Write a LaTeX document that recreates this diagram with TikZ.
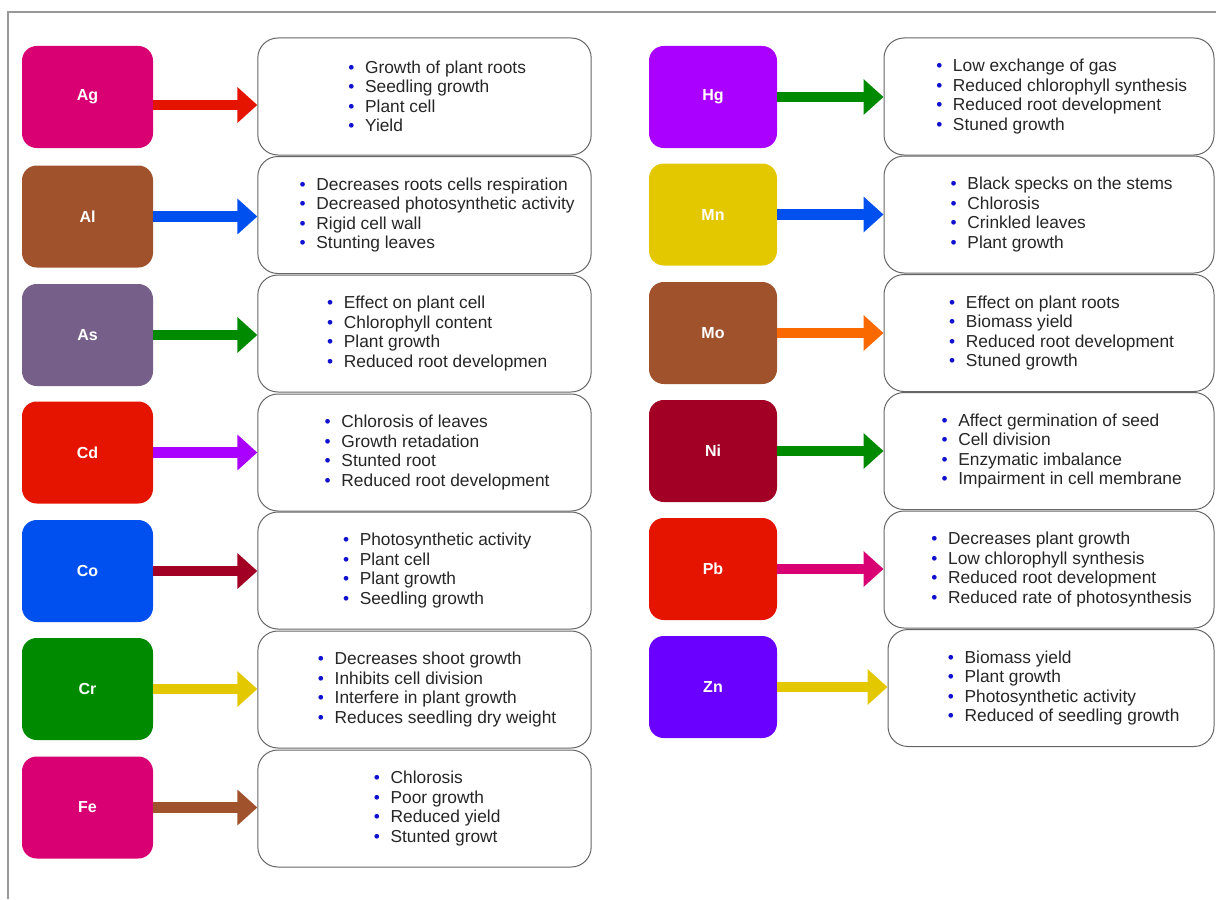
\documentclass[tikz,border=0pt]{standalone}
\usepackage{fontspec}
\setmainfont{Liberation Sans}
\usepackage{xcolor}
\usetikzlibrary{arrows.meta}
\definecolor{pinkred}{HTML}{D80073}
\definecolor{sienna}{HTML}{A0522D}
\definecolor{mauve}{HTML}{76608A}
\definecolor{brightred}{HTML}{E51400}
\definecolor{cobalt}{HTML}{0050EF}
\definecolor{leaf}{HTML}{008A00}
\definecolor{violet}{HTML}{AA00FF}
\definecolor{mustard}{HTML}{E3C800}
\definecolor{crimson}{HTML}{A20025}
\definecolor{indigo}{HTML}{6A00FF}
\definecolor{tangerine}{HTML}{FA6800}
\definecolor{dotblue}{HTML}{1010D0}
\tikzset{%
    metal/.style={%
        draw=none, rounded corners=11pt, minimum width=98.25pt,
        minimum height=76.5pt, text=white,
        font=\bfseries\fontsize{12}{14}\selectfont},
    effects/.style={%
        draw=black!60, line width=0.75pt, rounded corners=15pt, fill=white,
        minimum width=250pt, minimum height=87.75pt, align=left,
        text=black!85, font=\fontsize{13}{14.6}\selectfont},
    toxic/.style={line width=7.8pt, -{Triangle[length=15pt,width=26pt]}}
}
\newcommand{\itm}[1]{\hspace*{19pt}{\color{dotblue}\textbullet}\hspace{8pt}#1}

\begin{document}
\begin{tikzpicture}[x=0.75pt,y=-0.75pt]
    \useasboundingbox (0,0) rectangle (1216,899);
    \draw[black!40,line width=1.1pt] (1216,12) -- (8,12) -- (8,899);
    % left column
    \begin{scope}
        \node[metal,fill=pinkred](ag) at (87.5,97) {Ag};
        \node[metal,fill=sienna](al) at (87.5,216.5) {Al};
        \node[metal,fill=mauve](as) at (87.5,335) {As};
        \node[metal,fill=brightred](cd) at (87.5,452.5) {Cd};
        \node[metal,fill=cobalt](co) at (87.5,571) {Co};
        \node[metal,fill=leaf](cr) at (87.5,689) {Cr};
        \node[metal,fill=pinkred](fe) at (87.5,807.5) {Fe};
        \node[effects](agfx) at (424.5,96.5) {\itm{Growth of plant roots}\\\itm{Seedling growth}\\\itm{Plant cell}\\\itm{Yield}};
        \node[effects](alfx) at (424.5,215) {\itm{Decreases roots cells respiration}\\\itm{Decreased photosynthetic activity}\\\itm{Rigid cell wall}\\\itm{Stunting leaves}};
        \node[effects](asfx) at (424.5,333.5) {\itm{Effect on plant cell}\\\itm{Chlorophyll content}\\\itm{Plant growth}\\\itm{Reduced root developmen}};
        \node[effects](cdfx) at (424.5,452.5) {\itm{Chlorosis of leaves}\\\itm{Growth retadation}\\\itm{Stunted root}\\\itm{Reduced root development}};
        \node[effects](cofx) at (424.5,570.5) {\itm{Photosynthetic activity}\\\itm{Plant cell}\\\itm{Plant growth}\\\itm{Seedling growth}};
        \node[effects](crfx) at (424.5,689.5) {\itm{Decreases shoot growth}\\\itm{Inhibits cell division}\\\itm{Interfere in plant growth}\\\itm{Reduces seedling dry weight}};
        \node[effects](fefx) at (424.5,808.5) {\itm{Chlorosis}\\\itm{Poor growth}\\\itm{Reduced yield}\\\itm{Stunted growt}};
    \end{scope}
    % right column
    \begin{scope}
        \node[metal,fill=violet,minimum width=96pt](hg) at (713,97) {Hg};
        \node[metal,fill=mustard,minimum width=96pt](mn) at (713,214.5) {Mn};
        \node[metal,fill=sienna,minimum width=96pt](mo) at (713,333) {Mo};
        \node[metal,fill=crimson,minimum width=96pt](ni) at (713,451) {Ni};
        \node[metal,fill=brightred,minimum width=96pt](pb) at (713,569) {Pb};
        \node[metal,fill=indigo,minimum width=96pt](zn) at (713,687) {Zn};
        \node[effects,minimum width=247.5pt](hgfx) at (1049,96.5) {\itm{Low exchange of gas}\\\itm{Reduced chlorophyll synthesis}\\\itm{Reduced root development}\\\itm{Stuned growth}};
        \node[effects,minimum width=247.5pt](mnfx) at (1049,214.5) {\itm{Black specks on the stems}\\\itm{Chlorosis}\\\itm{Crinkled leaves}\\\itm{Plant growth}};
        \node[effects,minimum width=247.5pt](mofx) at (1049,333) {\itm{Effect on plant roots}\\\itm{Biomass yield}\\\itm{Reduced root development}\\\itm{Stuned growth}};
        \node[effects,minimum width=247.5pt](nifx) at (1049,451) {\itm{Affect germination of seed}\\\itm{Cell division}\\\itm{Enzymatic imbalance}\\\itm{Impairment in cell membrane}};
        \node[effects,minimum width=247.5pt](pbfx) at (1049,569.5) {\itm{Decreases plant growth}\\\itm{Low chlorophyll synthesis}\\\itm{Reduced root development}\\\itm{Reduced rate of photosynthesis}};
        \node[effects,minimum width=244.5pt](znfx) at (1051,688) {\itm{Biomass yield}\\\itm{Plant growth}\\\itm{Photosynthetic activity}\\\itm{Reduced of seedling growth}};
    \end{scope}
    \draw[toxic,brightred] ([yshift=-6pt]ag.east) -- ([yshift=-6pt]ag.east -| agfx.west);
    \draw[toxic,cobalt] (al.east) -- (al.east -| alfx.west);
    \draw[toxic,leaf] (as.east) -- (as.east -| asfx.west);
    \draw[toxic,violet] (cd.east) -- (cd.east -| cdfx.west);
    \draw[toxic,crimson] (co.east) -- (co.east -| cofx.west);
    \draw[toxic,mustard] (cr.east) -- (cr.east -| crfx.west);
    \draw[toxic,sienna] (fe.east) -- (fe.east -| fefx.west);
    \draw[toxic,leaf] (hg.east) -- (hg.east -| hgfx.west);
    \draw[toxic,cobalt] (mn.east) -- (mn.east -| mnfx.west);
    \draw[toxic,tangerine] (mo.east) -- (mo.east -| mofx.west);
    \draw[toxic,leaf] (ni.east) -- (ni.east -| nifx.west);
    \draw[toxic,pinkred] (pb.east) -- (pb.east -| pbfx.west);
    \draw[toxic,mustard] (zn.east) -- (zn.east -| znfx.west);
\end{tikzpicture}
\end{document}
